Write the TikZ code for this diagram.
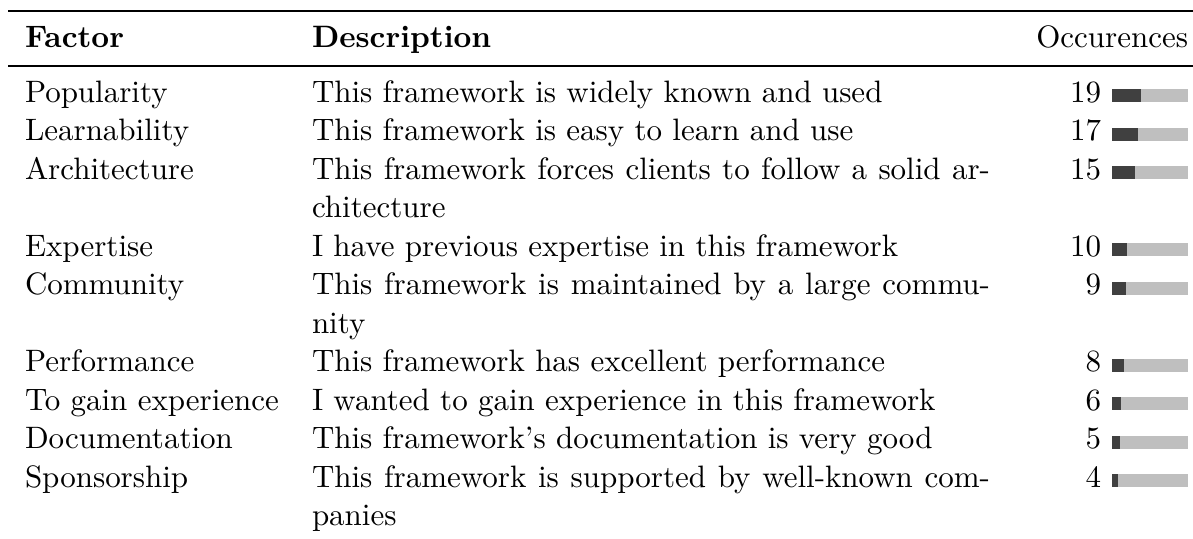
\documentclass[tikz,border=0pt]{standalone}
\newdimen\pxu \pxu=0.3534pt
\definecolor{bardark}{HTML}{404040}
\definecolor{barlight}{HTML}{BFBFBF}
\tikzset{
  txt/.style={anchor=base west, inner sep=0pt, outer sep=0pt},
  num/.style={anchor=base east, inner sep=0pt, outer sep=0pt},
}
\newcommand{\jline}[1]{\hbox to 678\pxu{#1}}
\newcommand{\occbar}[2]{% baseline y, count
  \fill[barlight] (1112,#1) rectangle (1188,#1-13);
  \fill[bardark] (1112,#1) rectangle ({1112+76*#2/50},#1-13);
}
\begin{document}
\begin{tikzpicture}[x=0.3534pt, y=-0.3534pt, font=\fontsize{10.95}{13.6}\selectfont]
\useasboundingbox (0,0) rectangle (1193,538);
% rules
\draw[line width=2.5\pxu] (8,11) -- (1193,11);
\draw[line width=1.5\pxu] (8,66) -- (1193,66);
% header
\node[txt] (hf) at (25,47) {\bfseries Factor};
\node[txt] (hd) at (312,47) {\bfseries Description};
\node[num] (ho) at (1188,47) {Occurences};
% rows
\node[txt] (f1) at (25,102) {Popularity};
\node[txt] (d1) at (312,102) {This framework is widely known and used};
\node[num] (n1) at (1101,102) {19};
\occbar{102}{19}
\node[txt] (f2) at (25,140.5) {Learnability};
\node[txt] (d2) at (312,140.5) {This framework is easy to learn and use};
\node[num] (n2) at (1101,140.5) {17};
\occbar{140.5}{17}
\node[txt] (f3) at (25,179) {Architecture};
\node[txt] (d3) at (312,179) {\jline{This framework forces clients to follow a solid ar-}};
\node[txt] (d3b) at (312,217.5) {chitecture};
\node[num] (n3) at (1101,179) {15};
\occbar{179}{15}
\node[txt] (f4) at (25,256) {Expertise};
\node[txt] (d4) at (312,256) {I have previous expertise in this framework};
\node[num] (n4) at (1101,256) {10};
\occbar{256}{10}
\node[txt] (f5) at (25,294.5) {Community};
\node[txt] (d5) at (312,294.5) {\jline{This framework is maintained by a large commu-}};
\node[txt] (d5b) at (312,333) {nity};
\node[num] (n5) at (1101,294.5) {9};
\occbar{294.5}{9}
\node[txt] (f6) at (25,371.5) {Performance};
\node[txt] (d6) at (312,371.5) {This framework has excellent performance};
\node[num] (n6) at (1101,371.5) {8};
\occbar{371.5}{8}
\node[txt] (f7) at (25,410) {To gain experience};
\node[txt] (d7) at (312,410) {I wanted to gain experience in this framework};
\node[num] (n7) at (1101,410) {6};
\occbar{410}{6}
\node[txt] (f8) at (25,448.5) {Documentation};
\node[txt] (d8) at (312,448.5) {This framework's documentation is very good};
\node[num] (n8) at (1101,448.5) {5};
\occbar{448.5}{5}
\node[txt] (f9) at (25,487) {Sponsorship};
\node[txt] (d9) at (312,487) {\jline{This framework is supported by well-known com-}};
\node[txt] (d9b) at (312,525.5) {panies};
\node[num] (n9) at (1101,487) {4};
\occbar{487}{4}
\end{tikzpicture}
\end{document}
